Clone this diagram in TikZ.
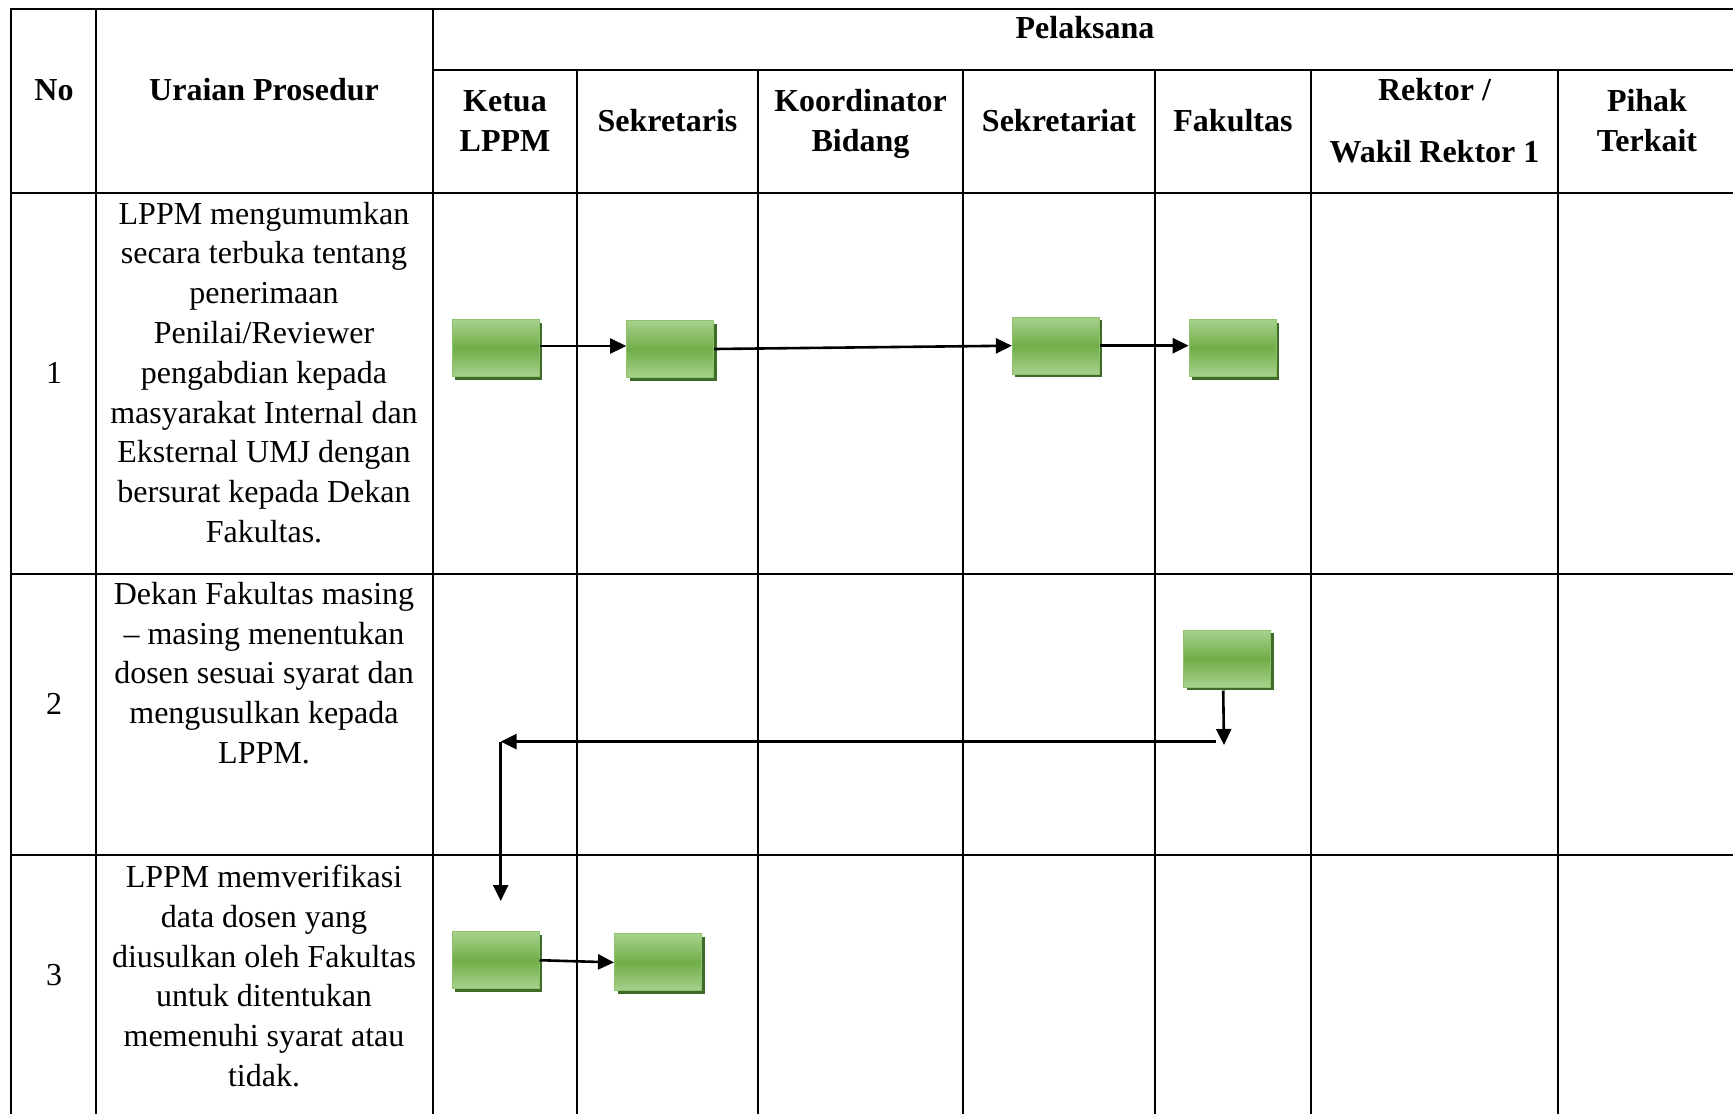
\documentclass[tikz,border=0pt]{standalone}
\usepackage{fontspec}
\setmainfont{Liberation Serif}
\usetikzlibrary{arrows.meta,shadows}
\definecolor{boxgreen}{HTML}{70AD47}
\definecolor{boxlight}{HTML}{A9D18E}
\definecolor{boxedge}{HTML}{8CC46C}
\definecolor{boxshade}{HTML}{3E6B27}
\tikzset{
  txt/.style={font=\fontsize{32}{39.8}\selectfont, align=center, inner sep=0pt},
  head/.style={txt, font=\fontsize{32}{39.8}\selectfont\bfseries},
  proc/.style={minimum width=87pt, minimum height=57pt, inner sep=0pt,
    draw=boxedge, line width=1pt, top color=boxlight, bottom color=boxlight,
    middle color=boxgreen,
    drop shadow={shadow xshift=3pt, shadow yshift=-3pt, fill=boxshade, opacity=1}},
  flow/.style={line width=2.6pt, -{Triangle[length=16pt,width=15pt]}},
  grid/.style={line width=2.2pt, line cap=rect}
}
\begin{document}
\begin{tikzpicture}[x=1pt, y=-1pt]
  \useasboundingbox (0,0) rectangle (1733,1114);

  \draw [grid] (11,9) -- (1736,9);
  \draw [grid] (433,70) -- (1736,70);
  \foreach \y in {193, 574, 855}
  {
    \draw [grid] (11,\y) -- (1736,\y);
  }
  \foreach \x in {11, 96, 433, 1736}
  {
    \draw [grid] (\x,9) -- (\x,1130);
  }
  \foreach \x in {577, 758, 963, 1155, 1311, 1558}
  {
    \draw [grid] (\x,70) -- (\x,1130);
  }

  \node [head] (no) at (54,90.5) {No};
  \node [head] (uraian) at (264,89.5) {Uraian Prosedur};
  \node [head] (pelaksana) at (1085,27.6) {Pelaksana};
  \node [head] (ketua) at (505,121) {Ketua\\LPPM};
  \node [head] (sekretaris) at (667.5,120.5) {Sekretaris};
  \node [head] (koordinator) at (860.5,124) {Koordinator\\Bidang};
  \node [head] (sekretariat) at (1059,120.5) {Sekretariat};
  \node [head] (fakultas) at (1233,120.5) {Fakultas};
  \node [head] (rektor) at (1434.5,120.5) {Rektor /\\[22pt]Wakil Rektor 1};
  \node [head] (pihak) at (1647,120.5) {Pihak\\Terkait};

  \node [txt] (n1) at (54,372.5) {1};
  \node [txt] (n2) at (54,704) {2};
  \node [txt] (n3) at (54,975) {3};

  \node [txt] (u1) at (264,372.5) {LPPM mengumumkan\\secara terbuka tentang\\penerimaan\\Penilai/Reviewer\\pengabdian kepada\\masyarakat Internal dan\\Eksternal UMJ dengan\\bersurat kepada Dekan\\Fakultas.};
  \node [txt] (u2) at (264,673) {Dekan Fakultas masing\\– masing menentukan\\dosen sesuai syarat dan\\mengusulkan kepada\\LPPM.};
  \node [txt] (u3) at (264,975.9) {LPPM memverifikasi\\data dosen yang\\diusulkan oleh Fakultas\\untuk ditentukan\\memenuhi syarat atau\\tidak.};

  \node [proc] (a1) at (495.5,348) {};
  \node [proc] (a2) at (670.2,349) {};
  \node [proc] (a3) at (1055.9,345.7) {};
  \node [proc] (a4) at (1232.7,348) {};
  \node [proc] (b) at (1227.2,658.5) {};
  \node [proc] (c1) at (495.5,960.2) {};
  \node [proc] (c2) at (658,962.4) {};

  \draw [flow] ([yshift=2pt]a1.east) -- ([yshift=2pt]a1.east -| a2.west);
  \draw [flow] (a2.east) -- (a3.west);
  \draw [flow] (a3.east) -- (a3.east -| a4.west);

  \coordinate (bdrop) at (1224,745);
  \coordinate (bturn) at (1216,741.6);
  \coordinate (turn) at (500.7,741.6);
  \coordinate (cdrop) at (500.7,901);
  \draw [flow] ([xshift=-4pt, yshift=-3pt]b.south) -- (bdrop);
  \draw [flow] (bturn) -- (turn);
  \draw [flow] (turn) -- (cdrop);

  \draw [flow] (c1.east) -- (c2.west);
\end{tikzpicture}
\end{document}
